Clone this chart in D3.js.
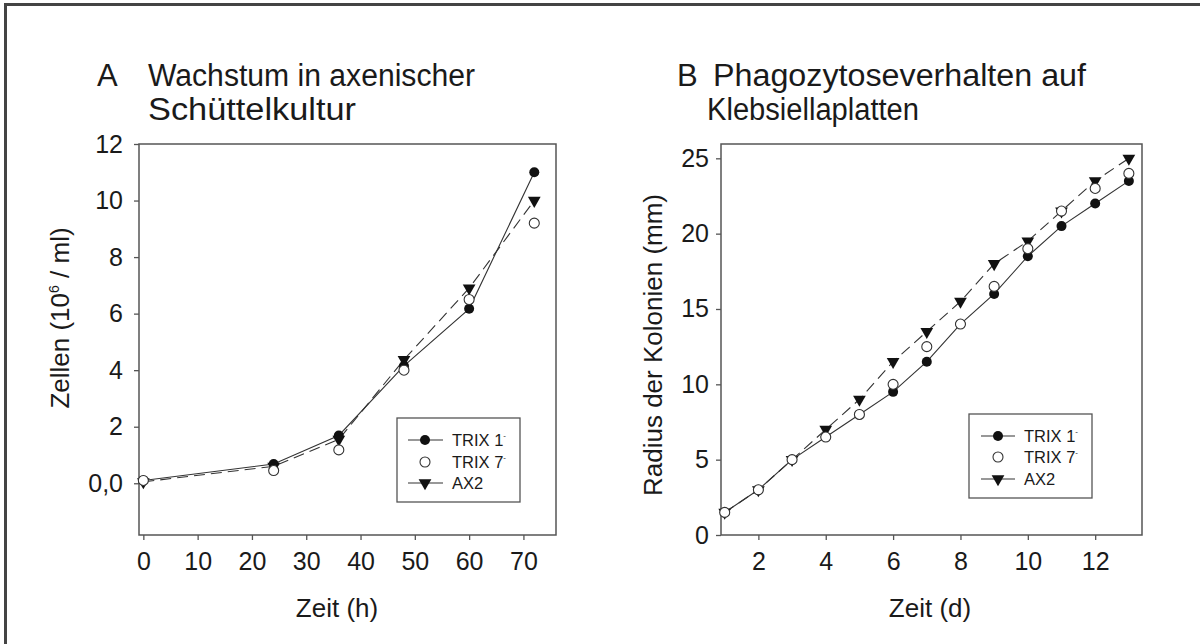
<!DOCTYPE html>
<html><head><meta charset="utf-8">
<script src="https://cdn.jsdelivr.net/npm/d3@7"></script>
<style>body{margin:0;background:#fff}svg{display:block}</style>
</head><body>
<svg id="c" width="1200" height="644"></svg>
<script>
// Panel A data
const timeA = [0, 24, 36, 48, 60, 72];
const trix1A = [0.1, 0.68, 1.69, 4.15, 6.17, 11.0];
const trix7A = [0.1, 0.45, 1.18, 4.0, 6.5, 9.2];
const ax2A = [0.05, 0.6, 1.55, 4.37, 6.9, 10.0];
const xTicksA = [0, 10, 20, 30, 40, 50, 60, 70];
const yTicksA = [0, 2, 4, 6, 8, 10, 12];
// Panel B data
const timeB = [1, 2, 3, 4, 5, 6, 7, 8, 9, 10, 11, 12, 13];
const trix1B = [1.5, 3, 5, 6.5, 8, 9.5, 11.5, 14, 16, 18.5, 20.5, 22, 23.5];
const trix7B = [1.5, 3, 5, 6.5, 8, 10, 12.5, 14, 16.5, 19, 21.5, 23, 24];
const ax2B = [1.5, 3, 5, 7, 9, 11.5, 13.5, 15.5, 18, 19.5, 21.5, 23.5, 25];
const xTicksB = [2, 4, 6, 8, 10, 12];
const yTicksB = [0, 5, 10, 15, 20, 25];
const seriesNames = ["TRIX 1", "TRIX 7", "AX2"];

const svg = d3.select("#c");
const FONT = "'Liberation Sans', Arial, sans-serif";
const INK = "#1a1a1a";
const AXC = "#555";

// outer frame (only top/left visible in the reference)
svg.append("rect").attr("x", 5.5).attr("y", 4.5).attr("width", 1210).attr("height", 660)
  .attr("fill", "none").attr("stroke", "#444").attr("stroke-width", 3);

function panel(o) {
  const g = svg.append("g");
  const x = d3.scaleLinear().domain(o.xd).range([o.l, o.r]);
  const y = d3.scaleLinear().domain(o.yd).range([o.b, o.t]);
  g.append("rect").attr("x", o.l).attr("y", o.t).attr("width", o.r - o.l).attr("height", o.b - o.t)
    .attr("fill", "none").attr("stroke", AXC).attr("stroke-width", 1.5);
  const xa = g.append("g").attr("transform", `translate(0,${o.b})`)
    .call(d3.axisBottom(x).tickValues(o.xt).tickSize(5).tickPadding(o.xpad).tickFormat(d3.format("d")));
  const ya = g.append("g").attr("transform", `translate(${o.l},0)`)
    .call(d3.axisLeft(y).tickValues(o.yt).tickSize(5).tickPadding(o.ypad).tickFormat(o.yfmt));
  [xa, ya].forEach(a => {
    a.select(".domain").remove();
    a.selectAll("line").attr("stroke", AXC).attr("stroke-width", 1.3);
    a.selectAll("text").attr("font-family", FONT).attr("font-size", 25).attr("fill", INK);
  });
  const line = (xs, ys) => d3.line().x((d, i) => x(xs[i])).y(d => y(d))(ys);
  g.append("path").attr("d", line(o.time, o.ax2)).attr("fill", "none").attr("stroke", "#333")
    .attr("stroke-width", 1.1).attr("stroke-dasharray", "11,6");
  g.append("path").attr("d", line(o.time, o.trix1)).attr("fill", "none").attr("stroke", "#333")
    .attr("stroke-width", 1.1);
  const tri = d3.symbol().type(d3.symbolTriangle).size(70)();
  g.selectAll(".t1").data(o.trix1).join("circle").attr("cx", (d, i) => x(o.time[i])).attr("cy", d => y(d))
    .attr("r", 5).attr("fill", "#111");
  g.selectAll(".ax").data(o.ax2).join("path").attr("d", tri)
    .attr("transform", (d, i) => `translate(${x(o.time[i])},${y(d)}) rotate(180)`).attr("fill", "#111");
  g.selectAll(".t7").data(o.trix7).join("circle").attr("cx", (d, i) => x(o.time[i])).attr("cy", d => y(d))
    .attr("r", 5).attr("fill", "#fff").attr("stroke", "#333").attr("stroke-width", 1.1);
  g.append("text").attr("x", o.xlx).attr("y", o.xly).attr("text-anchor", "middle")
    .attr("font-family", FONT).attr("font-size", 26).attr("fill", INK).text(o.xlab);
  const yl = g.append("text").attr("transform", `translate(${o.ylx},${o.yly}) rotate(-90)`)
    .attr("text-anchor", "middle").attr("font-family", FONT).attr("font-size", 26).attr("fill", INK);
  o.ylab(yl);
  const TF = 31;
  g.append("text").attr("x", o.tx).attr("y", 86).attr("font-family", FONT).attr("font-size", TF)
    .attr("fill", INK).text(o.letter);
  g.append("text").attr("x", o.t1x).attr("y", 86).attr("font-family", FONT).attr("font-size", TF)
    .attr("fill", INK).attr("textLength", o.tw[0]).attr("lengthAdjust", "spacingAndGlyphs").text(o.title[0]);
  g.append("text").attr("x", o.t2x).attr("y", 120).attr("font-family", FONT).attr("font-size", TF)
    .attr("fill", INK).attr("textLength", o.tw[1]).attr("lengthAdjust", "spacingAndGlyphs").text(o.title[1]);
  const L = o.leg;
  g.append("rect").attr("x", L.x0).attr("y", L.y0).attr("width", L.x1 - L.x0).attr("height", L.y1 - L.y0)
    .attr("fill", "#fff").attr("stroke", AXC).attr("stroke-width", 1.3);
  seriesNames.forEach((name, i) => {
    const yy = L.ys[i];
    if (i !== 1) g.append("line").attr("x1", L.lx0).attr("x2", L.lx1).attr("y1", yy).attr("y2", yy)
      .attr("stroke", "#333").attr("stroke-width", 1.1);
    if (i === 0) g.append("circle").attr("cx", L.mx).attr("cy", yy).attr("r", 5).attr("fill", "#111");
    if (i === 1) g.append("circle").attr("cx", L.mx).attr("cy", yy).attr("r", 5).attr("fill", "#fff")
      .attr("stroke", "#333").attr("stroke-width", 1.1);
    if (i === 2) g.append("path").attr("d", tri).attr("transform", `translate(${L.mx},${yy}) rotate(180)`).attr("fill", "#111");
    const t = g.append("text").attr("x", L.tx).attr("y", yy + 6).attr("font-family", FONT)
      .attr("font-size", 16.5).attr("fill", INK).text(name);
    if (i < 2) t.append("tspan").attr("dy", -8).attr("font-size", 8).text("-");
  });
}

panel({
  xd: [-0.8, 76], yd: [-1.83, 12], l: 139, r: 556, t: 144, b: 535,
  xt: xTicksA, yt: yTicksA, xpad: 12, ypad: 11,
  yfmt: d => d === 0 ? "0,0" : String(d),
  time: timeA, trix1: trix1A, trix7: trix7A, ax2: ax2A,
  xlab: "Zeit (h)", xlx: 337, xly: 617,
  ylx: 69, yly: 318,
  ylab: t => { t.append("tspan").text("Zellen (10"); t.append("tspan").attr("dy", -10).attr("font-size", 14).text("6");
               t.append("tspan").attr("dy", 10).text(" / ml)"); },
  letter: "A", tx: 97, t1x: 148, t2x: 148, tw: [327, 208], title: ["Wachstum in axenischer", "Schüttelkultur"],
  leg: { x0: 397, x1: 520, y0: 418, y1: 502, ys: [440, 462, 483], lx0: 408, lx1: 443, mx: 425, tx: 452 }
});

panel({
  xd: [0.89, 13.39], yd: [0, 25.95], l: 721, r: 1142, t: 144, b: 535,
  xt: xTicksB, yt: yTicksB, xpad: 12, ypad: 7,
  yfmt: d3.format("d"),
  time: timeB, trix1: trix1B, trix7: trix7B, ax2: ax2B,
  xlab: "Zeit (d)", xlx: 930, xly: 617,
  ylx: 662, yly: 345,
  ylab: t => t.text("Radius der Kolonien (mm)"),
  letter: "B", tx: 677, t1x: 713, t2x: 707, tw: [373, 212], title: ["Phagozytoseverhalten auf", "Klebsiellaplatten"],
  leg: { x0: 969, x1: 1092, y0: 414, y1: 498, ys: [436, 457, 479], lx0: 981, lx1: 1015, mx: 998, tx: 1024 }
});
</script>
</body></html>
